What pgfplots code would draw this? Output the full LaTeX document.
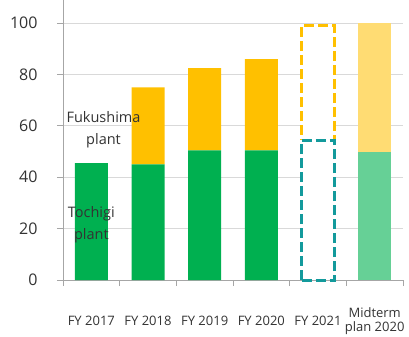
\documentclass[border=0pt]{standalone}
\usepackage{fontspec}
\setmainfont{Open Sans}
\usepackage{pgfplots}
\pgfplotsset{compat=1.18}

\definecolor{tgreen}{HTML}{00B050}
\definecolor{fyellow}{HTML}{FFC000}
\definecolor{tealdash}{HTML}{139A9C}
\definecolor{gridgray}{HTML}{D9D9D9}
\definecolor{axisgray}{HTML}{A6A6A6}
\definecolor{labelgray}{HTML}{333333}

% shared geometry of the two overlaid axes
\pgfplotsset{base/.style={
  scale only axis, width=340pt, height=280pt,
  xmin=-0.5, xmax=5.5, ymin=0, ymax=109,
  ybar stacked, bar width=33pt,
}}

\begin{document}
\begin{tikzpicture}
\begin{axis}[base, name=main,
  axis x line*=bottom, axis y line*=left,
  axis line style={axisgray, line width=0.8pt},
  tick align=outside,
  ytick={0,20,...,100},
  major tick length=6pt, minor tick length=6pt,
  tick style={axisgray, line width=0.8pt},
  ymajorgrids, grid style={gridgray, line width=0.8pt},
  xtick={0,...,5},
  xticklabels={FY 2017, FY 2018, FY 2019, FY 2020, FY 2021, {Midterm\\plan 2020}},
  xticklabel style={font=\fontsize{13}{14}\selectfont, text=labelgray, align=center, anchor=center, yshift=-35pt},
  major x tick style={draw=none},
  minor xtick={-0.5,0.5,...,5.5},
  yticklabel={\fontsize{16}{18}\selectfont\pgfmathprintnumber{\tick}},
  yticklabel style={text=labelgray, xshift=-16pt},
  /pgf/number format/assume math mode=true,
]
% Tochigi plant (results)
\addplot[fill=tgreen, draw=none] coordinates {(0,45.5) (1,45) (2,50.5) (3,50.5) (4,0) (5,0)};
% Tochigi plant (midterm plan)
\addplot[fill=tgreen!60!white, draw=none] coordinates {(0,0) (1,0) (2,0) (3,0) (4,0) (5,50)};
% Fukushima plant (results)
\addplot[fill=fyellow, draw=none] coordinates {(0,0) (1,30) (2,32) (3,35.5) (4,0) (5,0)};
% Fukushima plant (midterm plan)
\addplot[fill=fyellow!55!white, draw=none] coordinates {(0,0) (1,0) (2,0) (3,0) (4,0) (5,50)};
\end{axis}

% FY 2021 forecast, dashed outlines, and the plant labels on top
\begin{axis}[base, hide axis, clip=false]
\addplot[fill=white, draw=tealdash, line width=3pt, dash pattern=on 10pt off 4pt] coordinates {(4,54.5)};
\addplot[fill=white, draw=fyellow, line width=3pt, dash pattern=on 10pt off 4pt] coordinates {(4,44.5)};
\node[align=center, font=\fontsize{14.5}{22}\selectfont, text=labelgray] at (axis cs:0.215,58.5) {Fukushima\\plant};
\node[align=center, font=\fontsize{14.5}{22}\selectfont, text=labelgray] at (axis cs:0,21.7) {Tochigi\\plant};
\end{axis}

\pgfresetboundingbox
\path ([shift={(-63pt,-56pt)}]main.south west) rectangle ([shift={(6pt,0pt)}]main.north east);
\end{tikzpicture}
\end{document}
